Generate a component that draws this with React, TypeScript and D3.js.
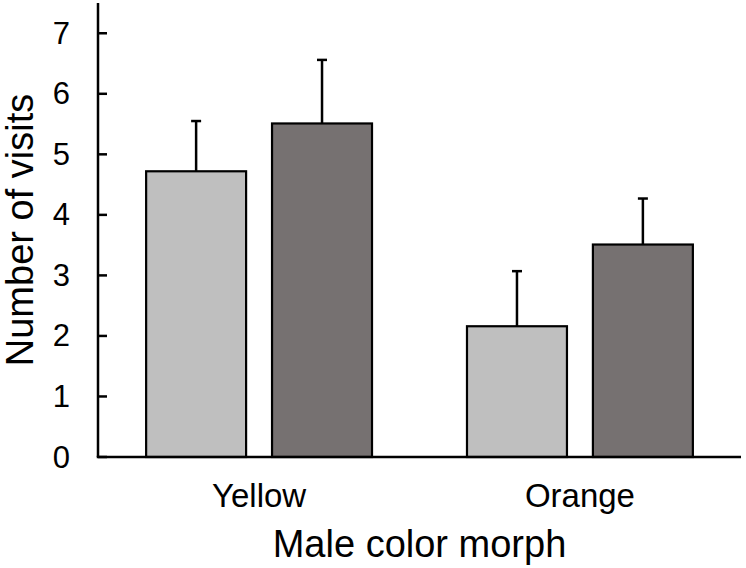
import React from "react";
import * as d3 from "d3";

const categories = ["Yellow", "Orange"];
const seriesNames = ["light", "dark"];
const lightValues = [4.72, 2.16];
const darkValues = [5.51, 3.51];
const lightErrors = [0.83, 0.91];
const darkErrors = [1.05, 0.76];
const yTicks = [0, 1, 2, 3, 4, 5, 6, 7];

const W = 746;
const H = 568;
const left = 98;
const right = 741;
const top = 3;
const bottom = 457;
const colors: Record<string, string> = { light: "#bfbfbf", dark: "#767171" };
const FONT = "'Liberation Sans', Arial, sans-serif";

export default function App() {
  const y = d3.scaleLinear().domain([0, 7.5]).range([bottom, top]);
  const x = d3
    .scaleBand<string>()
    .domain(categories)
    .range([left, right])
    .paddingInner(0.296)
    .paddingOuter(0.15);
  const sub = d3
    .scaleBand<string>()
    .domain(seriesNames)
    .range([0, x.bandwidth()])
    .paddingInner(0.206)
    .paddingOuter(0);

  const data = categories.flatMap((c, i) => [
    { cat: c, s: "light", v: lightValues[i], e: lightErrors[i] },
    { cat: c, s: "dark", v: darkValues[i], e: darkErrors[i] },
  ]);

  return (
    <svg
      width={W}
      height={H}
      style={{ position: "absolute", left: 0, top: 0, background: "#fff" }}
      fontFamily={FONT}
    >
      {data.map((d, i) => {
        const bx = (x(d.cat) as number) + (sub(d.s) as number);
        const bw = sub.bandwidth();
        const cx = bx + bw / 2;
        return (
          <g key={i}>
            <line x1={cx} x2={cx} y1={y(d.v)} y2={y(d.v + d.e)} stroke="#000" strokeWidth={2.5} />
            <line x1={cx - 5} x2={cx + 5} y1={y(d.v + d.e)} y2={y(d.v + d.e)} stroke="#000" strokeWidth={2.5} />
            <rect
              x={bx}
              y={y(d.v)}
              width={bw}
              height={bottom - y(d.v)}
              fill={colors[d.s]}
              stroke="#000"
              strokeWidth={2.2}
            />
          </g>
        );
      })}
      {/* y axis */}
      <line x1={left} x2={left} y1={top} y2={bottom} stroke="#000" strokeWidth={2.5} />
      {yTicks.map((t) => (
        <g key={t}>
          <line x1={left} x2={left + 9} y1={y(t)} y2={y(t)} stroke="#000" strokeWidth={2.5} />
          <text x={70} y={y(t)} textAnchor="end" dominantBaseline="central" fontSize={31} fill="#000">
            {t}
          </text>
        </g>
      ))}
      {/* x axis */}
      <line x1={left - 1.25} x2={right} y1={bottom} y2={bottom} stroke="#000" strokeWidth={2.5} />
      {categories.map((c) => (
        <text
          key={c}
          x={(x(c) as number) + x.bandwidth() / 2}
          y={507}
          textAnchor="middle"
          fontSize={33}
          fill="#000"
        >
          {c}
        </text>
      ))}
      <text x={(left + right) / 2} y={557} textAnchor="middle" fontSize={38} fill="#000">
        Male color morph
      </text>
      <text
        transform={`translate(33, ${(top + bottom) / 2}) rotate(-90)`}
        textAnchor="middle"
        fontSize={38}
        fill="#000"
      >
        Number of visits
      </text>
    </svg>
  );
}
